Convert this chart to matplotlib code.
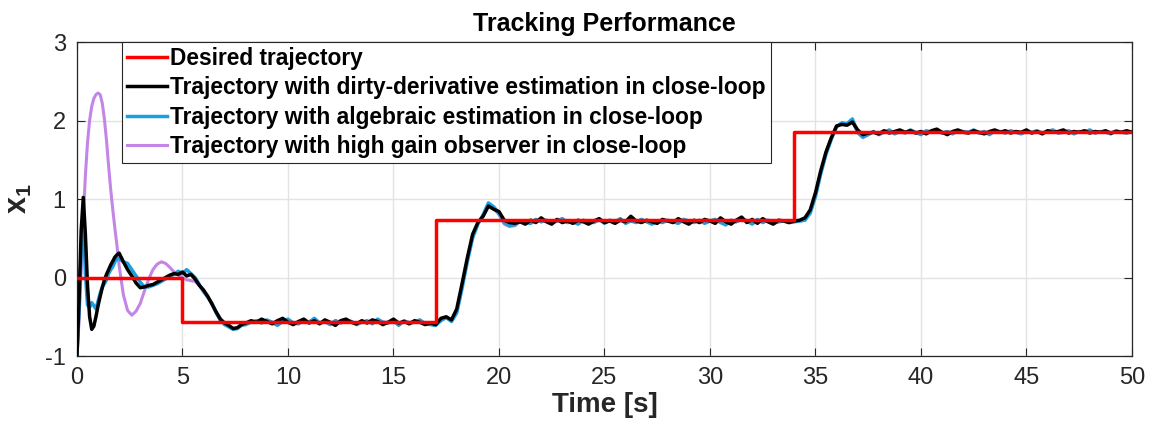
import numpy as np
import matplotlib.pyplot as plt

plt.rcParams['font.family'] = ['Liberation Sans', 'DejaVu Sans']
plt.rcParams['mathtext.fontset'] = 'custom'
plt.rcParams['mathtext.rm'] = 'Liberation Sans'
plt.rcParams['mathtext.bf'] = 'Liberation Sans:bold'
plt.rcParams['axes.unicode_minus'] = False

# time grid: fine at the start, coarser afterwards
t_head_fine = np.linspace(0.0, 1.9, 20)
t_head_mid = np.linspace(2.0, 7.8, 30)
t_tail = np.linspace(8.0, 50.0, 169)
t = np.concatenate([t_head_fine, t_head_mid, t_tail])

# desired trajectory (piecewise constant)
step_times = [0, 5, 17, 34, 50]
step_levels = [0, -0.57, 0.73, 1.86]

# dirty-derivative estimation
x_dirty = [
    -1.0, -0.3, 0.6, 1.02, 0.55, -0.1, -0.5, -0.66, -0.62, -0.5,
    -0.36, -0.24, -0.13, -0.03, 0.04, 0.1, 0.16, 0.21, 0.26, 0.29,
    0.31, 0.2, 0.1, 0.02, -0.07, -0.13, -0.12, -0.1, -0.09, -0.06,
    -0.03, 0.0, 0.03, 0.05, 0.04, 0.07, 0.02, 0.04, -0.02, -0.1,
    -0.16, -0.24, -0.34, -0.44, -0.53, -0.58, -0.61, -0.65, -0.64, -0.6,
    -0.58, -0.55, -0.57, -0.53, -0.56, -0.59, -0.55, -0.52, -0.57, -0.60, -0.56, -0.53,
    -0.58, -0.55, -0.59, -0.54, -0.57, -0.61, -0.55, -0.53, -0.57, -0.59, -0.55, -0.58,
    -0.54, -0.56, -0.60, -0.57, -0.53, -0.58, -0.56, -0.59, -0.55, -0.57, -0.60, -0.58,
    -0.60, -0.52, -0.50, -0.54, -0.40, -0.08, 0.25, 0.55, 0.70, 0.78, 0.91, 0.87, 0.84, 0.73, 0.70,
    0.69, 0.71, 0.68, 0.73, 0.70, 0.76, 0.71, 0.68, 0.74, 0.70, 0.72, 0.69,
    0.73, 0.71, 0.68, 0.72, 0.75, 0.70, 0.72, 0.69, 0.73, 0.71, 0.78, 0.72,
    0.70, 0.73, 0.71, 0.69, 0.74, 0.72, 0.70, 0.75, 0.71, 0.68, 0.73, 0.70,
    0.74, 0.72, 0.69, 0.76, 0.71, 0.68, 0.73, 0.77, 0.70, 0.74, 0.69, 0.75,
    0.71, 0.68, 0.73, 0.72, 0.70, 0.72, 0.73,
    0.76, 0.86, 1.08, 1.36, 1.60, 1.78, 1.93, 1.95, 1.94, 1.98, 1.88, 1.82, 1.84,
    1.85, 1.83, 1.87, 1.84, 1.86, 1.88, 1.85, 1.87, 1.84, 1.86, 1.83, 1.87,
    1.89, 1.85, 1.82, 1.86, 1.88, 1.85, 1.84, 1.87, 1.85, 1.83, 1.86, 1.88,
    1.85, 1.87, 1.84, 1.86, 1.85, 1.88, 1.84, 1.86, 1.83, 1.87, 1.85, 1.86,
    1.88, 1.84, 1.86, 1.85, 1.87, 1.84, 1.86, 1.85, 1.87, 1.84, 1.86, 1.85,
    1.87, 1.85,
]

# algebraic estimation
x_alg = [
    -1.0, -0.4, 0.35, 0.75, 0.05, -0.35, -0.38, -0.32, -0.36, -0.4,
    -0.3, -0.2, -0.12, -0.08, -0.03, 0.05, 0.1, 0.14, 0.2, 0.24,
    0.24, 0.2, 0.18, 0.1, 0.02, -0.06, -0.12, -0.12, -0.1, -0.08,
    -0.05, -0.02, 0.02, 0.04, 0.08, 0.05, 0.1, 0.05, 0.0, -0.09,
    -0.18, -0.25, -0.33, -0.45, -0.55, -0.6, -0.63, -0.66, -0.65, -0.61,
    -0.60, -0.57, -0.55, -0.58, -0.54, -0.57, -0.61, -0.56, -0.53, -0.58, -0.59, -0.55,
    -0.57, -0.52, -0.58, -0.56, -0.60, -0.55, -0.58, -0.54, -0.56, -0.60, -0.57, -0.55,
    -0.59, -0.53, -0.57, -0.58, -0.55, -0.61, -0.55, -0.58, -0.57, -0.54, -0.59, -0.60,
    -0.61, -0.55, -0.51, -0.56, -0.45, -0.14, 0.20, 0.50, 0.68, 0.80, 0.95, 0.90, 0.82, 0.70, 0.66,
    0.67, 0.72, 0.70, 0.69, 0.74, 0.71, 0.73, 0.69, 0.72, 0.75, 0.70, 0.71,
    0.68, 0.73, 0.71, 0.70, 0.74, 0.69, 0.73, 0.71, 0.75, 0.69, 0.72, 0.70,
    0.74, 0.71, 0.68, 0.72, 0.70, 0.73, 0.71, 0.69, 0.74, 0.72, 0.70, 0.73,
    0.69, 0.72, 0.74, 0.70, 0.67, 0.73, 0.71, 0.75, 0.72, 0.68, 0.74, 0.70,
    0.73, 0.69, 0.71, 0.72, 0.70, 0.71, 0.72,
    0.73, 0.82, 1.03, 1.32, 1.57, 1.76, 1.92, 1.97, 1.96, 2.02, 1.85, 1.79, 1.82,
    1.86, 1.82, 1.85, 1.88, 1.83, 1.86, 1.84, 1.88, 1.85, 1.82, 1.87, 1.85,
    1.87, 1.84, 1.86, 1.83, 1.87, 1.86, 1.85, 1.88, 1.84, 1.86, 1.82, 1.87,
    1.86, 1.84, 1.87, 1.85, 1.83, 1.86, 1.85, 1.87, 1.84, 1.86, 1.88, 1.84,
    1.85, 1.87, 1.83, 1.86, 1.85, 1.88, 1.84, 1.86, 1.85, 1.83, 1.87, 1.85,
    1.84, 1.86,
]

# high gain observer
x_hgo = [
    -1.0, -0.55, 0.1, 0.75, 1.3, 1.72, 2.0, 2.18, 2.28, 2.33,
    2.35, 2.33, 2.22, 2.02, 1.75, 1.42, 1.12, 0.86, 0.62, 0.4,
    0.15, -0.22, -0.42, -0.48, -0.43, -0.33, -0.17, -0.02, 0.1, 0.17,
    0.2, 0.18, 0.13, 0.07, 0.03, 0.0, -0.03, -0.04, -0.05, -0.1,
    -0.17, -0.25, -0.33, -0.45, -0.54, -0.6, -0.62, -0.65, -0.64, -0.6,
    -0.59, -0.56, -0.56, -0.57, -0.55, -0.58, -0.60, -0.55, -0.54, -0.58, -0.58, -0.56,
    -0.56, -0.53, -0.58, -0.57, -0.59, -0.55, -0.57, -0.55, -0.56, -0.59, -0.57, -0.56,
    -0.58, -0.54, -0.57, -0.57, -0.56, -0.60, -0.56, -0.57, -0.57, -0.55, -0.58, -0.59,
    -0.60, -0.54, -0.51, -0.55, -0.43, -0.12, 0.22, 0.52, 0.69, 0.79, 0.93, 0.88, 0.80, 0.68, 0.65,
    0.66, 0.71, 0.70, 0.70, 0.73, 0.71, 0.72, 0.70, 0.72, 0.74, 0.70, 0.71,
    0.69, 0.72, 0.71, 0.71, 0.73, 0.70, 0.72, 0.71, 0.74, 0.70, 0.72, 0.71,
    0.73, 0.71, 0.69, 0.72, 0.71, 0.72, 0.71, 0.70, 0.73, 0.72, 0.71, 0.72,
    0.70, 0.72, 0.73, 0.71, 0.68, 0.72, 0.71, 0.74, 0.72, 0.69, 0.73, 0.71,
    0.72, 0.70, 0.71, 0.72, 0.71, 0.71, 0.72,
    0.73, 0.83, 1.05, 1.34, 1.58, 1.77, 1.93, 1.96, 1.95, 2.00, 1.84, 1.78, 1.82,
    1.85, 1.83, 1.85, 1.87, 1.84, 1.86, 1.85, 1.87, 1.85, 1.83, 1.86, 1.85,
    1.86, 1.84, 1.86, 1.84, 1.86, 1.86, 1.85, 1.87, 1.84, 1.86, 1.83, 1.86,
    1.86, 1.84, 1.86, 1.85, 1.84, 1.86, 1.85, 1.86, 1.84, 1.86, 1.87, 1.84,
    1.85, 1.86, 1.84, 1.86, 1.85, 1.87, 1.84, 1.86, 1.85, 1.84, 1.86, 1.85,
    1.84, 1.86,
]

labels = [
    "Desired trajectory",
    "Trajectory with dirty-derivative estimation in close-loop",
    "Trajectory with algebraic estimation in close-loop",
    "Trajectory with high gain observer in close-loop",
]

fig = plt.figure(figsize=(11.52, 4.34), dpi=100)
ax = fig.add_axes([0.0668, 0.1797, 0.9158, 0.7235])

l_des, = ax.step(step_times, step_levels + [step_levels[-1]], where='post',
                 color='#ff0000', lw=2.5, zorder=5)
l_dirty, = ax.plot(t, x_dirty, color='black', lw=2.5, zorder=4)
l_alg, = ax.plot(t, x_alg, color='#1aa0e0', lw=2.5, zorder=3)
l_hgo, = ax.plot(t, x_hgo, color='#c386e6', lw=2.2, zorder=2)

ax.set_xlim(0, 50)
ax.set_ylim(-1, 3)
ax.set_xticks(np.arange(0, 51, 5))
ax.set_yticks(np.arange(-1, 4, 1))
ax.grid(True, color='#e3e3e3', lw=1)
ax.set_axisbelow(True)
ax.tick_params(direction='in', top=True, right=True, length=6, width=0.8,
               labelsize=17, colors='#262626', pad=8)
for s in ax.spines.values():
    s.set_color('#262626')
    s.set_linewidth(0.9)

ax.set_title("Tracking Performance", fontsize=18, fontweight='bold', pad=8)
ax.set_xlabel("Time [s]", fontsize=20, fontweight='bold', color='#262626', labelpad=2)
ax.set_ylabel(r"$\mathbf{x}_\mathbf{1}$", fontsize=22, color='#262626', labelpad=8)

leg = ax.legend([l_des, l_dirty, l_alg, l_hgo], labels, loc='upper left',
                bbox_to_anchor=(0.0425, 1.0), borderaxespad=0, fancybox=False,
                framealpha=1, edgecolor='#262626', handlelength=1.75,
                handletextpad=0.15, borderpad=0.22, labelspacing=0.28,
                prop={'weight': 'bold', 'size': 16.4})
leg.get_frame().set_linewidth(0.8)
leg.set_zorder(10)

fig.savefig("out.png", dpi=100)
